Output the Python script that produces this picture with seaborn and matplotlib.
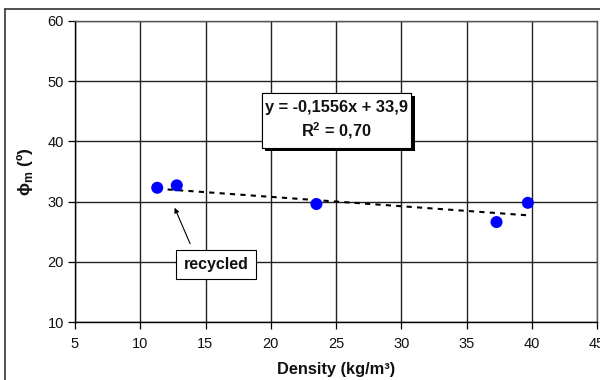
import matplotlib
matplotlib.use("Agg")
import matplotlib.pyplot as plt
import seaborn as sns
import numpy as np
import pandas as pd
from matplotlib.lines import Line2D
from matplotlib.patches import Rectangle
import matplotlib.patheffects as pe

density = [11.3, 12.8, 23.5, 37.3, 39.7]
phi_m = [32.3, 32.7, 29.6, 26.6, 29.8]
slope = -0.1556
intercept = 33.9
r2_text = "0,70"
xticks = [5, 10, 15, 20, 25, 30, 35, 40, 45]
yticks = [10, 20, 30, 40, 50, 60]

sns.set_theme(style="white")
plt.rcParams['font.family'] = ['Liberation Sans', 'DejaVu Sans']

fig = plt.figure(figsize=(6, 3.8), dpi=100)
ax = fig.add_axes([75/600, 1-322/380, (597-75)/600, (322-21)/380])

df = pd.DataFrame({"Density": density, "phi": phi_m})
xs = np.array([min(density), max(density)])
trend = pd.DataFrame({"x": xs, "y": slope*xs + intercept})
sns.lineplot(data=trend, x="x", y="y", ax=ax, color="black", linestyle=(0, (2.5, 2.5)), linewidth=1.5, zorder=3)
sns.scatterplot(data=df, x="Density", y="phi", ax=ax, color="#0000FF", s=75, edgecolor="none", zorder=4)

ax.set_xlim(5, 45)
ax.set_ylim(10, 60)
ax.set_xticks(xticks)
ax.set_yticks(yticks)
ax.grid(True, color="#222222", linewidth=1.0)
ax.set_axisbelow(True)
for s in ax.spines.values():
    s.set_color("#555555")
    s.set_linewidth(1.0)
ax.spines['left'].set_color('black')
ax.spines['bottom'].set_color('black')
ax.tick_params(axis='both', direction='out', length=5, width=0.9, color='black', labelsize=10.5, pad=3, labelcolor='#111111')
ax.tick_params(left=True, bottom=True)
ax.tick_params(axis='x', pad=6)

ax.set_xlabel("Density (kg/m³)", fontsize=11.8, fontweight='bold', labelpad=8, color='#111111')
ax.set_ylabel("ϕ$_\\mathregular{m}$ (º)", fontsize=12.5, fontweight='bold', labelpad=9, color='#111111')

# equation box
box = Rectangle((19.33, 38.9), 30.75 - 19.33, 48.04 - 38.9, facecolor='white', edgecolor='black',
                linewidth=0.8, zorder=5)
box.set_path_effects([pe.withSimplePatchShadow(offset=(2.5, -2.5), shadow_rgbFace='black', alpha=1.0), pe.Normal()])
ax.add_patch(box)
ax.text(25.05, 43.5, "y = -0,1556x + 33,9\nR$^\\mathregular{2}$ = " + r2_text, ha='center', va='center',
        fontsize=11.8, fontweight='bold', linespacing=1.35, color='#111111', zorder=6)

ax.annotate("", xy=(12.55, 29.4), xytext=(13.9, 22.6),
            arrowprops=dict(arrowstyle='-|>', color='black', lw=0.8, mutation_scale=7), zorder=5)
ax.text(15.8, 19.55, "recycled", ha='center', va='center', fontsize=11.5, fontweight='bold', color='#111111',
        bbox=dict(boxstyle='square,pad=0.45', facecolor='white', edgecolor='black', linewidth=0.8), zorder=6)

fig.add_artist(Line2D([5/600, 5/600], [0, 1-9/380], color='#333333', linewidth=1.2, transform=fig.transFigure))
fig.add_artist(Line2D([5/600, 1], [1-9/380, 1-9/380], color='#333333', linewidth=1.2, transform=fig.transFigure))

fig.savefig("out.png", dpi=100)
